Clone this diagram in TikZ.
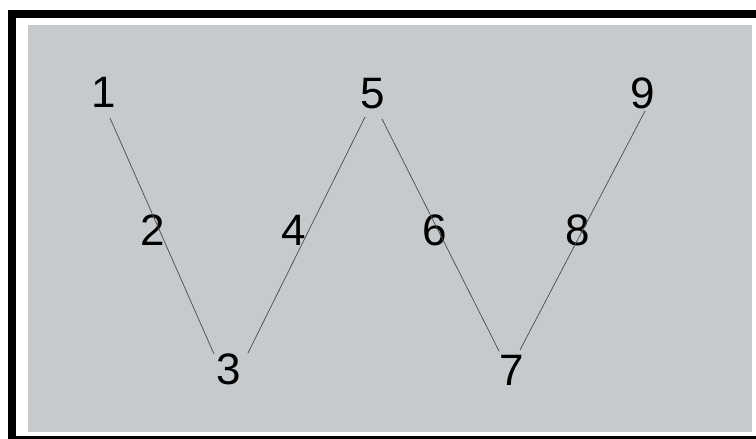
\documentclass[tikz,border=0pt]{standalone}
\usepackage{fontspec}
\setmainfont{Liberation Sans}
\usetikzlibrary{calc}
\definecolor{panel}{HTML}{C6CACC}
\definecolor{linkcol}{HTML}{4A4A4A}
\begin{document}
\begin{tikzpicture}[x=1pt,y=-1pt,
  num/.style={inner sep=0pt, font=\fontsize{44}{48}\selectfont, text=black},
  link/.style={draw=linkcol, line width=0.7pt}]
\useasboundingbox (0,0) rectangle (756,439);
% frame
\fill[white] (0,0) rectangle (756,439);
\fill[black] (8,10) rectangle (760,443);
\fill[white] (16,18) rectangle (760,436);
\fill[panel] (28,25) rectangle (752,432);
% labels
\node[num] (n1) at (104,92) {1};
\node[num] (n2) at (153,230) {2};
\node[num] (n3) at (229,369) {3};
\node[num] (n4) at (294,230) {4};
\node[num] (n5) at (373,94) {5};
\node[num] (n6) at (435,230) {6};
\node[num] (n7) at (512,370) {7};
\node[num] (n8) at (578,230) {8};
\node[num] (n9) at (643,93) {9};
% connectors
\draw[link] ($(n1.center)+(6,26)$) -- ($(n3.center)+(-15,-15)$);
\draw[link] ($(n3.center)+(19,-16)$) -- ($(n5.center)+(-8,23)$);
\draw[link] ($(n5.center)+(9,25)$) -- ($(n7.center)+(-13,-19)$);
\draw[link] ($(n7.center)+(8,-20)$) -- ($(n9.center)+(2,18)$);
\end{tikzpicture}
\end{document}
